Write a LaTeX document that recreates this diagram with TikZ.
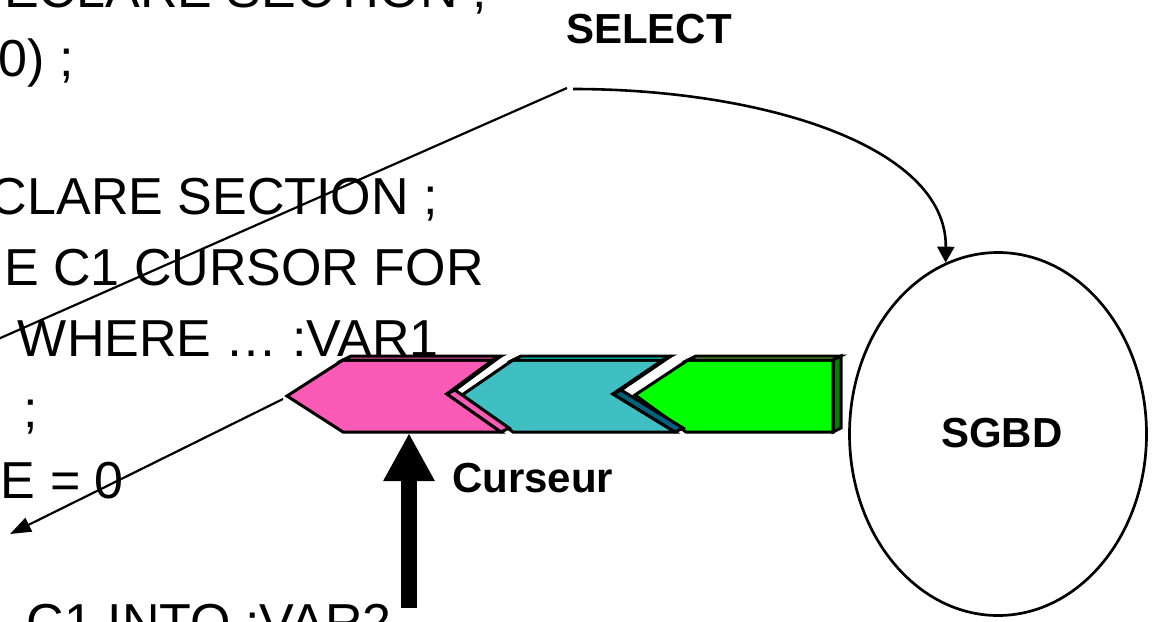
\documentclass[tikz,border=0pt]{standalone}
\usepackage{fontspec}
\setmainfont{Liberation Sans}
\usetikzlibrary{arrows.meta,shapes.geometric}
\begin{document}
\begin{tikzpicture}[x=1pt,y=-1pt,
  code/.style={font=\fontsize{52}{60}\selectfont, inner sep=0pt, anchor=base east},
  lbl/.style={font=\fontsize{42}{48}\selectfont\bfseries, inner sep=0pt, anchor=base west},
  conn/.style={draw=black, line width=2.2pt},
  face/.style={draw=black, line width=3pt, line join=miter}
]
\useasboundingbox (0,0) rectangle (1155,621);
\clip (0,0) rectangle (1155,621);
\definecolor{pinkc}{HTML}{F85AB6}
\definecolor{tealc}{HTML}{40BFC2}
\definecolor{cyanc}{HTML}{00FFFF}
\definecolor{tealdark}{HTML}{00607F}
\definecolor{greenc}{HTML}{00FF00}
\definecolor{greenlight}{HTML}{80FF50}
\definecolor{greendark}{HTML}{008000}

% code text
\node[code] (l1) at (487,8) {ECLARE SECTION ;};
\node[code] (l2) at (74,76) {0) ;};
\node[code] (l3) at (438,214) {CLARE SECTION ;};
\node[code] (l4) at (484,285) {E C1 CURSOR FOR};
\node[code] (l5) at (439,356) {WHERE \dots{} :VAR1};
\node[code] (l6) at (38,427) {;};
\node[code] (l7) at (124,498) {E = 0};
\node[code] (l8) at (392,640) {C1 INTO :VAR2};

% labels
\node[lbl] (sel) at (566,43) {SELECT};
\node[lbl] (cur) at (452,492) {Curseur};
\node[ellipse, draw=black, line width=2.7pt, minimum width=297pt, minimum height=363pt,
      inner sep=0pt] (sgbd) at (998,434) {};
\node[lbl] (sgbdtxt) at (941,447) {SGBD};

% green chevron
\fill[greenc] (635,395) -- (688,360) -- (833,360) -- (833,432) -- (686,432) -- cycle;
\draw[face, fill=greenlight] (688,360) -- (696,356) -- (841,356) -- (833,360) -- cycle;
\draw[face, fill=greendark] (833,360) -- (841,356) -- (841,428) -- (833,432) -- cycle;
\draw[face] (635,395) -- (688,360) -- (833,360) -- (833,432) -- (686,432) -- cycle;

% teal chevron
\draw[face, fill=tealc] (462,395) -- (513,360) -- (663,360) -- (613,394) -- (675,432) -- (513,432) -- cycle;
\draw[face, fill=cyanc] (513,360) -- (521,356) -- (671,356) -- (663,360) -- cycle;
\draw[face, fill=white] (663,360) -- (671,356) -- (621,390) -- (613,394) -- cycle;
\draw[face, fill=tealdark] (613,394) -- (621,390) -- (683,428) -- (675,432) -- cycle;

% pink chevron
\draw[face, fill=pinkc] (287,396) -- (343,360) -- (493,360) -- (447,394) -- (501,432) -- (343,432) -- cycle;
\draw[face, fill=pinkc] (343,360) -- (351,356) -- (501,356) -- (493,360) -- cycle;
\draw[face, fill=white] (493,360) -- (501,356) -- (455,390) -- (447,394) -- cycle;
\draw[face, fill=pinkc] (447,394) -- (455,390) -- (509,428) -- (501,432) -- cycle;

% connector coordinates
\coordinate (selA) at (567,88);
\coordinate (selB) at (573,89);
\coordinate (farL) at (-20,347);
\coordinate (lnA) at (283,399);
\coordinate (lnB) at (10,534);
\coordinate (thkbot) at (409,608);
\coordinate (thktop) at (409,433);

% connectors
\draw[conn] (selA) -- (farL);
\draw[draw=black, line width=2.6pt, -{Triangle[length=16pt,width=17pt]}] (selB) .. controls (760,89) and (947,145) .. (sgbd.107);
\draw[conn, -{Triangle[length=21pt,width=15pt]}] (lnA) -- (lnB);
\draw[line width=16pt, -{Triangle[length=48pt,width=48pt]}] (thkbot) -- (thktop);
\end{tikzpicture}
\end{document}
